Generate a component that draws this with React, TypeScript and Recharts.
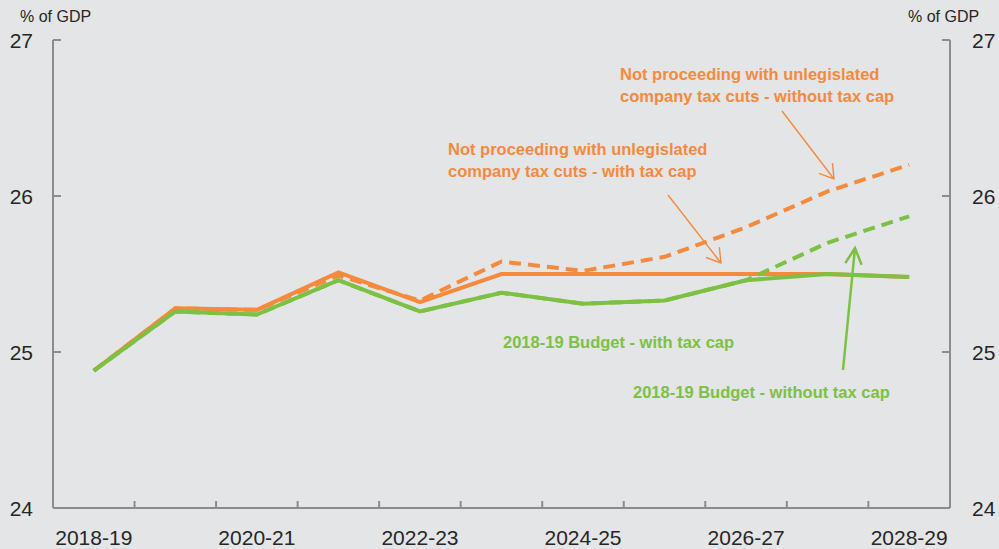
import React from 'react';
import { LineChart, Line, XAxis, YAxis } from 'recharts';

const years = ['2018-19', '2019-20', '2020-21', '2021-22', '2022-23', '2023-24', '2024-25', '2025-26', '2026-27', '2027-28', '2028-29'];
const noCutsWithCap = [24.88, 25.28, 25.27, 25.51, 25.32, 25.5, 25.5, 25.5, 25.5, 25.5, 25.48];
const noCutsWithoutCap = [24.88, 25.28, 25.27, 25.49, 25.33, 25.58, 25.52, 25.61, 25.8, 26.03, 26.2];
const budgetWithCap = [24.88, 25.26, 25.24, 25.46, 25.26, 25.38, 25.31, 25.33, 25.46, 25.5, 25.48];
const budgetWithoutCap = [24.88, 25.26, 25.24, 25.46, 25.26, 25.38, 25.31, 25.33, 25.46, 25.7, 25.87];
const yTicks = [24, 25, 26, 27];

const data = years.map((year, i) => ({
  year,
  noCutsWithCap: noCutsWithCap[i],
  noCutsWithoutCap: noCutsWithoutCap[i],
  budgetWithCap: budgetWithCap[i],
  budgetWithoutCap: budgetWithoutCap[i],
}));

const W = 999;
const H = 549;
const BG = '#e4e5e7';
const AXIS = '#8c8c8c';
const ORANGE = '#f68a3c';
const GREEN = '#7cc144';
const TEXT = '#262626';
const FONT = '"Liberation Sans", Arial, sans-serif';
const HALF_BAND = 898 / 11 / 2;

const XTick = (props: any) => {
  const { x, y, payload, index } = props;
  return (
    <g>
      {index > 0 && (
        <line x1={x - HALF_BAND} x2={x - HALF_BAND} y1={y} y2={y - 7} stroke={AXIS} strokeWidth={2} />
      )}
      {index % 2 === 0 && (
        <text x={x} y={y + 37} textAnchor="middle" fontFamily={FONT} fontSize={21} fill={TEXT}>
          {payload.value}
        </text>
      )}
    </g>
  );
};

const YTickLeft = (props: any) => {
  const { x, y, payload } = props;
  return (
    <g>
      <line x1={x} x2={x + 8} y1={y} y2={y} stroke={AXIS} strokeWidth={2} />
      <text x={x - 20} y={y + 8} textAnchor="end" fontFamily={FONT} fontSize={21} fill={TEXT}>
        {payload.value}
      </text>
    </g>
  );
};

const YTickRight = (props: any) => {
  const { x, y, payload } = props;
  return (
    <g>
      <line x1={x - 8} x2={x} y1={y} y2={y} stroke={AXIS} strokeWidth={2} />
      <text x={x + 22} y={y + 8} textAnchor="start" fontFamily={FONT} fontSize={21} fill={TEXT}>
        {payload.value}
      </text>
    </g>
  );
};

// line with an open arrow head at (x2, y2)
const arrowPath = (x1: number, y1: number, x2: number, y2: number, len: number, deg: number) => {
  const back = Math.atan2(y1 - y2, x1 - x2);
  const a = (deg * Math.PI) / 180;
  const w1 = [x2 + len * Math.cos(back + a), y2 + len * Math.sin(back + a)];
  const w2 = [x2 + len * Math.cos(back - a), y2 + len * Math.sin(back - a)];
  return `M${x1},${y1} L${x2},${y2} M${w1[0]},${w1[1]} L${x2},${y2} L${w2[0]},${w2[1]}`;
};

const Annotations = () => (
  <svg width={W} height={H} style={{ position: 'absolute', left: 0, top: 0, pointerEvents: 'none' }}>
    <g fontFamily={FONT} fontSize={16} fill={TEXT}>
      <text x={20} y={22}>% of GDP</text>
      <text x={908} y={22}>% of GDP</text>
    </g>
    <g fontFamily={FONT} fontSize={16.5} fontWeight="bold" fill={ORANGE}>
      <text x={620} y={80}>Not proceeding with unlegislated</text>
      <text x={620} y={102}>company tax cuts - without tax cap</text>
      <text x={448} y={155}>Not proceeding with unlegislated</text>
      <text x={448} y={177}>company tax cuts - with tax cap</text>
    </g>
    <g fontFamily={FONT} fontSize={16.5} fontWeight="bold" fill={GREEN}>
      <text x={503} y={348}>2018-19 Budget - with tax cap</text>
      <text x={633} y={398}>2018-19 Budget - without tax cap</text>
    </g>
    <path d={arrowPath(782, 111, 834, 179, 16, 32)} stroke={ORANGE} strokeWidth={1.4} fill="none" />
    <path d={arrowPath(668, 195, 721, 263, 16, 32)} stroke={ORANGE} strokeWidth={1.4} fill="none" />
    <path d={arrowPath(843, 370, 855, 248, 18, 27)} stroke={GREEN} strokeWidth={2.5} fill="none" />
  </svg>
);

export default function App() {
  return (
    <div style={{ position: 'absolute', left: 0, top: 0, width: W, height: H, background: BG }}>
      <LineChart width={W} height={H} data={data} margin={{ top: 40, right: 0, bottom: 0, left: 0 }}>
        <XAxis
          dataKey="year"
          interval={0}
          padding={{ left: HALF_BAND, right: HALF_BAND }}
          height={41}
          tickSize={0}
          tickMargin={0}
          tickLine={false}
          axisLine={{ stroke: AXIS, strokeWidth: 2 }}
          tick={<XTick />}
        />
        <YAxis
          yAxisId="left"
          domain={[24, 27]}
          ticks={yTicks}
          width={53}
          tickSize={0}
          tickMargin={0}
          tickLine={false}
          axisLine={{ stroke: AXIS, strokeWidth: 2 }}
          tick={<YTickLeft />}
        />
        <YAxis
          yAxisId="right"
          orientation="right"
          domain={[24, 27]}
          ticks={yTicks}
          width={49}
          tickSize={0}
          tickMargin={0}
          tickLine={false}
          axisLine={{ stroke: AXIS, strokeWidth: 2 }}
          tick={<YTickRight />}
        />
        <Line yAxisId="left" dataKey="noCutsWithCap" stroke={ORANGE} strokeWidth={4} dot={false} isAnimationActive={false} />
        <Line yAxisId="left" dataKey="noCutsWithoutCap" stroke={ORANGE} strokeWidth={4} strokeDasharray="12 7" dot={false} isAnimationActive={false} />
        <Line yAxisId="right" dataKey="budgetWithoutCap" stroke={GREEN} strokeWidth={4} strokeDasharray="12 7" dot={false} isAnimationActive={false} />
        <Line yAxisId="left" dataKey="budgetWithCap" stroke={GREEN} strokeWidth={4} dot={false} isAnimationActive={false} />
      </LineChart>
      <Annotations />
    </div>
  );
}
